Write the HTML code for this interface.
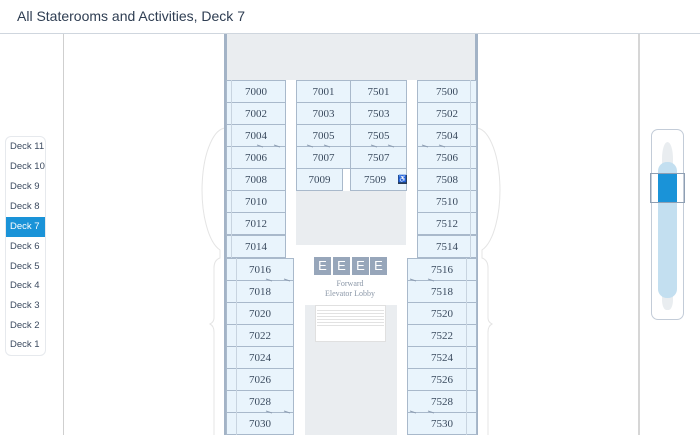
<!DOCTYPE html>
<html><head><meta charset="utf-8"><style>
*{margin:0;padding:0;box-sizing:border-box}
body{width:700px;height:435px;overflow:hidden;background:#fff;position:relative;font-family:"Liberation Sans",sans-serif}
.a{position:absolute}
.c{position:absolute;background:#e9f4fc;border:1px solid #a9b9cb;font-family:"Liberation Serif",serif;font-size:11px;color:#3a4a5e;display:flex;align-items:center;justify-content:center;height:23px}
.d{position:absolute;left:6px;width:39px;height:20px;font-size:9.5px;color:#3b4a5f;padding-left:4px;line-height:20px;white-space:nowrap;overflow:hidden}
</style></head><body>
<div class="a" style="left:17px;top:8px;font-size:14px;color:#2e3d52">All Staterooms and Activities, Deck 7</div>
<div class="a" style="left:0;top:33px;width:700px;height:1px;background:#cfd6de"></div>
<div class="a" style="left:63px;top:34px;width:1px;height:401px;background:#cfcfcf"></div>
<div class="a" style="left:638px;top:34px;width:2px;height:401px;background:#d6d6d6"></div>

<svg class="a" style="left:0;top:0" width="700" height="435">
<g fill="none" stroke="#e4e4e4" stroke-width="1">
<path d="M226 128 A24 62 0 0 0 220 250 L220 258 Q214 260 214 268 L214 318 Q214 322 210 324 Q214 326 214 332 L214 435"/>
<path d="M476 128 A24 62 0 0 1 482 250 L482 258 Q488 260 488 268 L488 318 Q488 322 492 324 Q488 326 488 332 L488 435"/>
</g>
</svg>

<div class="a" style="left:224px;top:34px;width:254px;height:401px;background:#fff;border-left:3px solid #a3b3c6;border-right:3px solid #a3b3c6"></div>
<div class="a" style="left:227px;top:34px;width:248px;height:46px;background:#eaedf0"></div>
<div class="a" style="left:296px;top:191px;width:110px;height:54px;background:#eaedf0"></div>
<div class="a" style="left:305px;top:305px;width:92px;height:130px;background:#eaedf0"></div>
<div class="a" style="left:315px;top:305px;width:71px;height:37px;background:#fff;border:1px solid #e0e0e0"></div>
<div class="a" style="left:317px;top:308px;width:67px;height:20px;background:repeating-linear-gradient(#fff 0 2px,#e2e2e2 2px 3px)"></div>
<div class="a" style="left:314px;top:257px;width:17px;height:18px;background:#97a6ba;color:#fff;font-size:13px;text-align:center;line-height:18px">E</div>
<div class="a" style="left:333px;top:257px;width:17px;height:18px;background:#97a6ba;color:#fff;font-size:13px;text-align:center;line-height:18px">E</div>
<div class="a" style="left:352px;top:257px;width:17px;height:18px;background:#97a6ba;color:#fff;font-size:13px;text-align:center;line-height:18px">E</div>
<div class="a" style="left:370px;top:257px;width:17px;height:18px;background:#97a6ba;color:#fff;font-size:13px;text-align:center;line-height:18px">E</div>
<div class="a" style="left:300px;top:279px;width:100px;text-align:center;font-family:'Liberation Serif',serif;font-size:8px;color:#8c98a8;line-height:10px">Forward<br>Elevator Lobby</div>

<div class="c" style="left:226px;top:80px;width:60px">7000</div>
<div class="c" style="left:226px;top:102px;width:60px">7002</div>
<div class="c" style="left:226px;top:124px;width:60px">7004</div>
<div class="c" style="left:226px;top:146px;width:60px">7006</div>
<div class="c" style="left:226px;top:168px;width:60px">7008</div>
<div class="c" style="left:226px;top:190px;width:60px">7010</div>
<div class="c" style="left:226px;top:212px;width:60px">7012</div>
<div class="c" style="left:226px;top:235px;width:60px">7014</div>
<div class="c" style="left:226px;top:258px;width:68px">7016</div>
<div class="c" style="left:226px;top:280px;width:68px">7018</div>
<div class="c" style="left:226px;top:302px;width:68px">7020</div>
<div class="c" style="left:226px;top:324px;width:68px">7022</div>
<div class="c" style="left:226px;top:346px;width:68px">7024</div>
<div class="c" style="left:226px;top:368px;width:68px">7026</div>
<div class="c" style="left:226px;top:390px;width:68px">7028</div>
<div class="c" style="left:226px;top:412px;width:68px">7030</div>
<div class="c" style="left:296px;top:80px;width:55px">7001</div>
<div class="c" style="left:296px;top:102px;width:55px">7003</div>
<div class="c" style="left:296px;top:124px;width:55px">7005</div>
<div class="c" style="left:296px;top:146px;width:55px">7007</div>
<div class="c" style="left:296px;top:168px;width:47px">7009</div>
<div class="c" style="left:350px;top:80px;width:57px">7501</div>
<div class="c" style="left:350px;top:102px;width:57px">7503</div>
<div class="c" style="left:350px;top:124px;width:57px">7505</div>
<div class="c" style="left:350px;top:146px;width:57px">7507</div>
<div class="c" style="left:350px;top:168px;width:57px;justify-content:flex-start;padding-left:13px">7509<span style="display:inline-block;width:9px;height:9px;background:#2a3c55;margin-left:12px;color:#fff;font-size:7px;line-height:9px;text-align:center">♿</span></div>
<div class="c" style="left:417px;top:80px;width:60px">7500</div>
<div class="c" style="left:417px;top:102px;width:60px">7502</div>
<div class="c" style="left:417px;top:124px;width:60px">7504</div>
<div class="c" style="left:417px;top:146px;width:60px">7506</div>
<div class="c" style="left:417px;top:168px;width:60px">7508</div>
<div class="c" style="left:417px;top:190px;width:60px">7510</div>
<div class="c" style="left:417px;top:212px;width:60px">7512</div>
<div class="c" style="left:417px;top:235px;width:60px">7514</div>
<div class="c" style="left:407px;top:258px;width:70px">7516</div>
<div class="c" style="left:407px;top:280px;width:70px">7518</div>
<div class="c" style="left:407px;top:302px;width:70px">7520</div>
<div class="c" style="left:407px;top:324px;width:70px">7522</div>
<div class="c" style="left:407px;top:346px;width:70px">7524</div>
<div class="c" style="left:407px;top:368px;width:70px">7526</div>
<div class="c" style="left:407px;top:390px;width:70px">7528</div>
<div class="c" style="left:407px;top:412px;width:70px">7530</div>
<div class="a" style="left:231px;top:80px;width:1px;height:178px;background:#c8d4e0"></div>
<div class="a" style="left:470px;top:80px;width:1px;height:178px;background:#c8d4e0"></div>
<div class="a" style="left:236px;top:258px;width:1px;height:177px;background:#c8d4e0"></div>
<div class="a" style="left:466px;top:258px;width:1px;height:177px;background:#c8d4e0"></div>
<svg class="a" style="left:0;top:0" width="700" height="435"><g stroke="#8f9fb3" stroke-width="1">
<path d="M257 145 l6 2 M274 145 l6 2 M307 145 l6 2 M324 145 l6 2 M371 145 l6 2 M388 145 l6 2 M422 145 l6 2 M439 145 l6 2"/>
<path d="M266 279 l6 2 M284 279 l6 2 M410 279 l6 2 M428 279 l6 2 M266 411 l6 2 M284 411 l6 2 M410 411 l6 2 M428 411 l6 2"/>
</g></svg>

<div class="a" style="left:5px;top:136px;width:41px;height:220px;border:1px solid #e6e9ed;border-radius:6px"></div>
<div class="d" style="top:137px">Deck 11</div>
<div class="d" style="top:157px">Deck 10</div>
<div class="d" style="top:177px">Deck 9</div>
<div class="d" style="top:197px">Deck 8</div>
<div class="d" style="top:217px;background:#1a93d8;color:#fff">Deck 7</div>
<div class="d" style="top:237px">Deck 6</div>
<div class="d" style="top:257px">Deck 5</div>
<div class="d" style="top:276px">Deck 4</div>
<div class="d" style="top:296px">Deck 3</div>
<div class="d" style="top:316px">Deck 2</div>
<div class="d" style="top:335px">Deck 1</div>

<div class="a" style="left:651px;top:129px;width:33px;height:191px;border:1px solid #c3ccd8;border-radius:7px"></div>
<div class="a" style="left:662px;top:142px;width:11px;height:168px;background:#e9edf0;border-radius:50% 50% 40% 40%/10% 10% 6% 6%"></div>
<div class="a" style="left:658px;top:162px;width:19px;height:136px;background:#c3dff0;border-radius:9px"></div>
<div class="a" style="left:658px;top:174px;width:19px;height:29px;background:#1a93d8"></div>
<div class="a" style="left:650px;top:173px;width:35px;height:30px;border:1px solid #8f9fb3"></div>
</body></html>
